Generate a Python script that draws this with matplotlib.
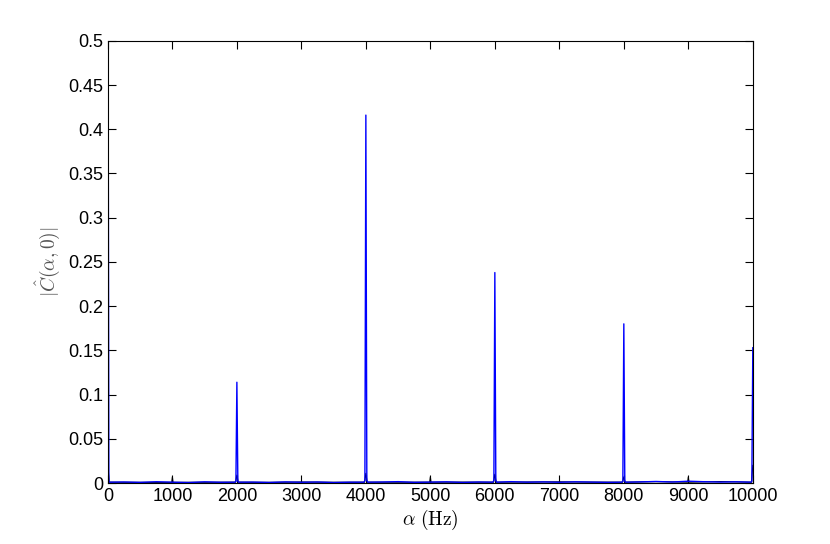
import numpy as np
import matplotlib.pyplot as plt

plt.rcParams['font.family'] = ['Liberation Sans', 'DejaVu Sans']
plt.rcParams['mathtext.fontset'] = 'cm'

# blue trace: cyclic spectrum estimate, vertices
blue_alpha = [0, 15, 30, 250, 500, 750, 1000, 1250, 1500, 1750, 1970, 1985, 2000, 2015, 2030,
              2250, 2500, 2750, 3000, 3250, 3500, 3750, 3970, 3985, 4000, 4015, 4030,
              4250, 4500, 4750, 5000, 5250, 5500, 5750, 5970, 5985, 6000, 6015, 6030,
              6250, 6500, 6750, 7000, 7250, 7500, 7750, 7970, 7985, 8000, 8015, 8030,
              8250, 8500, 8750, 9000, 9250, 9500, 9750, 9970, 9985, 10000]
blue_val = [0.62, 0.002, 0.001, 0.0012, 0.0008, 0.0015, 0.0010, 0.0006, 0.0014, 0.0009, 0.001, 0.002, 0.114, 0.002, 0.001,
            0.0011, 0.0007, 0.0013, 0.0009, 0.0012, 0.0006, 0.0010, 0.001, 0.003, 0.416, 0.003, 0.001,
            0.0012, 0.0016, 0.0008, 0.0011, 0.0014, 0.0007, 0.0012, 0.001, 0.003, 0.238, 0.003, 0.001,
            0.0016, 0.0010, 0.0013, 0.0009, 0.0014, 0.0011, 0.0008, 0.001, 0.002, 0.180, 0.002, 0.001,
            0.0013, 0.0018, 0.0012, 0.0021, 0.0015, 0.0011, 0.0014, 0.001, 0.002, 0.153]

# black trace: second estimate, mostly hidden under the blue one
black_alpha = [0, 20, 500, 990, 1000, 1010, 1500, 1980, 2000, 2020, 2500, 3000, 3500, 3980, 4000, 4020,
               4500, 4990, 5000, 5010, 5500, 5980, 6000, 6020, 6500, 7000, 7500, 7980, 8000, 8020,
               8500, 8990, 9000, 9010, 9500, 9980, 10000]
black_val = [0.02, 0.001, 0.0008, 0.0008, 0.007, 0.0008, 0.0009, 0.001, 0.009, 0.001, 0.0008, 0.0012, 0.0009, 0.001, 0.011, 0.001,
             0.0010, 0.001, 0.007, 0.001, 0.0011, 0.001, 0.010, 0.001, 0.0012, 0.0014, 0.0011, 0.001, 0.007, 0.001,
             0.0016, 0.001, 0.007, 0.001, 0.0017, 0.001, 0.02]

xticks = np.arange(0, 10001, 1000)
yticks = np.arange(0, 0.501, 0.05)
ytick_labels = ['0', '0.05', '0.1', '0.15', '0.2', '0.25', '0.3', '0.35', '0.4', '0.45', '0.5']

fig = plt.figure(figsize=(8.3, 5.44), dpi=100)
ax = fig.add_axes([0.13, 0.112, 0.777, 0.813])

ax.plot(black_alpha, black_val, color='black', lw=0.8)
ax.plot(blue_alpha, blue_val, color='blue', lw=1)

ax.set_xlim(0, 10000)
ax.set_ylim(0, 0.5)
ax.set_xticks(xticks)
ax.set_yticks(yticks)
ax.set_yticklabels(ytick_labels)
ax.tick_params(direction='in', top=True, right=True, length=6, width=0.8, labelsize=13)
for s in ax.spines.values():
    s.set_linewidth(0.8)

ax.set_xlabel(r'$\alpha\ \mathrm{(Hz)}$', fontsize=14, labelpad=2)
ax.set_ylabel(r'$|\hat{C}(\alpha,0)|$', fontsize=14, color='#555555', labelpad=4)

fig.savefig('out.png', dpi=100)
